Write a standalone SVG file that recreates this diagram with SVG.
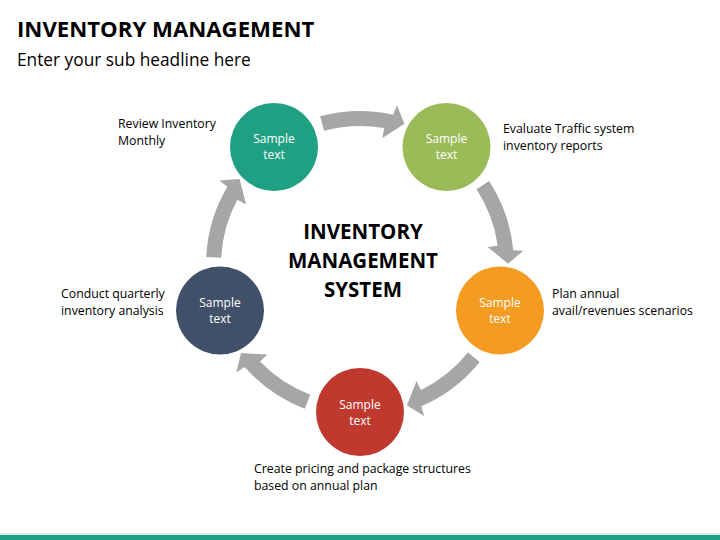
<svg xmlns="http://www.w3.org/2000/svg" xmlns:xlink="http://www.w3.org/1999/xlink" width="720" height="540" viewBox="0 0 720 540">
<style>
.title{font-family:"Open Sans","Liberation Sans",sans-serif;font-weight:bold;font-size:22.2px;fill:#000}
.sub{font-family:"Open Sans","Liberation Sans",sans-serif;font-size:17.3px;fill:#000}
.center{font-family:"Open Sans","Liberation Sans",sans-serif;font-weight:bold;font-size:20.5px;fill:#000;text-anchor:middle}
.lbl{font-family:"Open Sans","Liberation Sans",sans-serif;font-size:12.3px;fill:#000}
.ct{font-family:"Open Sans","Liberation Sans",sans-serif;font-size:12px;fill:#fff;text-anchor:middle}
.arrow{fill:#a6a6a6}
</style>
<defs>
<path id="arr" d="M320.14,116.25 A154,154 0 0 1 393.33,114.65 L396.89,105.20 L404.51,123.85 L382.40,137.96 L384.14,128.11 A139,139 0 0 0 324.02,130.74 Z"/>
</defs>
<rect width="720" height="540" fill="#fff"/>
<text class="title" x="17" y="37">INVENTORY MANAGEMENT</text>
<text class="sub" x="17" y="66">Enter your sub headline here</text>
<g id="connectors">
<use xlink:href="#arr" class="arrow"/>
<use xlink:href="#arr" class="arrow" transform="rotate(72 360 265)"/>
<use xlink:href="#arr" class="arrow" transform="rotate(144 360 265)"/>
<use xlink:href="#arr" class="arrow" transform="rotate(216 360 265)"/>
<use xlink:href="#arr" class="arrow" transform="rotate(288 360 265)"/>
</g>
<g id="node-review">
<circle cx="274" cy="147" r="44" fill="#1fa083"/>
<text class="ct" x="274" y="143">Sample</text>
<text class="ct" x="274" y="158.5">text</text>
<text class="lbl" x="118" y="128">Review Inventory</text>
<text class="lbl" x="118" y="145">Monthly</text>
</g>
<g id="node-evaluate">
<circle cx="446.5" cy="147" r="44" fill="#9bbb59"/>
<text class="ct" x="446.5" y="143">Sample</text>
<text class="ct" x="446.5" y="158.5">text</text>
<text class="lbl" x="503" y="133">Evaluate Traffic system</text>
<text class="lbl" x="503" y="150">inventory reports</text>
</g>
<g id="node-plan">
<circle cx="500" cy="310.5" r="44" fill="#f49b22"/>
<text class="ct" x="500" y="307">Sample</text>
<text class="ct" x="500" y="322.5">text</text>
<text class="lbl" x="552" y="298">Plan annual</text>
<text class="lbl" x="552" y="315">avail/revenues scenarios</text>
</g>
<g id="node-create">
<circle cx="360" cy="412" r="44" fill="#c0392e"/>
<text class="ct" x="360" y="409">Sample</text>
<text class="ct" x="360" y="424.5">text</text>
<text class="lbl" x="254" y="473">Create pricing and package structures</text>
<text class="lbl" x="254" y="490">based on annual plan</text>
</g>
<g id="node-conduct">
<circle cx="220" cy="310.5" r="44" fill="#3f5068"/>
<text class="ct" x="220" y="307">Sample</text>
<text class="ct" x="220" y="322.5">text</text>
<text class="lbl" x="61" y="298">Conduct quarterly</text>
<text class="lbl" x="61" y="315">inventory analysis</text>
</g>
<g id="center-title">
<text class="center" x="363" y="239">INVENTORY</text>
<text class="center" x="363" y="268">MANAGEMENT</text>
<text class="center" x="363" y="297">SYSTEM</text>
</g>
<rect x="0" y="533.5" width="720" height="1" fill="#b9ddd4"/>
<rect x="0" y="535" width="720" height="5" fill="#1fa083"/>
</svg>
